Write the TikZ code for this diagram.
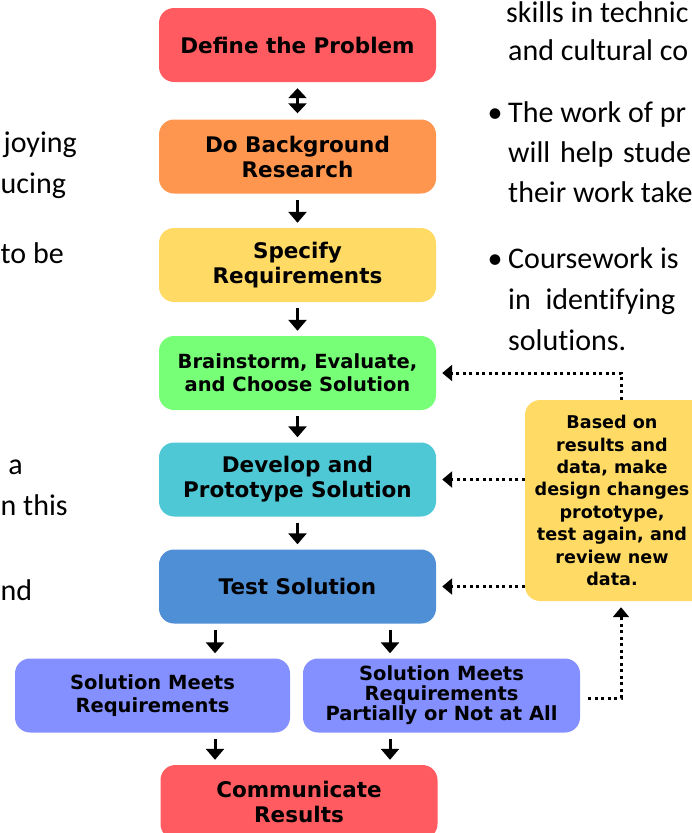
\documentclass[tikz,border=0pt]{standalone}
\usepackage{fontspec}
\setmainfont{Carlito}[Ligatures=NoCommon]
\newfontfamily\boxfont{DejaVu Sans}
\usetikzlibrary{arrows.meta}
\definecolor{cred}{HTML}{FF5B60}
\definecolor{corange}{HTML}{FF964F}
\definecolor{cyellow}{HTML}{FFDB66}
\definecolor{cgreen}{HTML}{77FF77}
\definecolor{ccyan}{HTML}{4FC8D6}
\definecolor{cblue}{HTML}{4F8FD6}
\definecolor{cviolet}{HTML}{8490FF}
\begin{document}
\begin{tikzpicture}[x=1pt,y=-1pt,
  box/.style={draw=none, rounded corners=15pt, minimum width=277pt, minimum height=74pt,
    inner sep=0pt, align=center, text=black,
    font=\boxfont\bfseries\fontsize{21.5pt}{25pt}\selectfont},
  smallbox/.style={box, font=\boxfont\bfseries\fontsize{19.5pt}{23pt}\selectfont},
  arr/.style={line width=3pt, -{Triangle[width=18pt,length=11pt]}, shorten <=6pt, shorten >=5pt},
  dblarr/.style={line width=3pt, {Triangle[width=18pt,length=10pt]}-{Triangle[width=18pt,length=10pt]}, shorten <=6pt, shorten >=6pt},
  dotarr/.style={line width=3pt, dash pattern=on 3pt off 3.5pt, -{Triangle[width=16pt,length=10pt]}},
  bt/.style={inner sep=0pt, font=\fontsize{30pt}{40pt}\selectfont, text=black}
]
\useasboundingbox (0,0) rectangle (692,833);

% background text, left
\node[bt, anchor=base east] (l1) at (77,152) {joying};
\node[bt, anchor=base west] (l2) at (0.5,193) {ucing};
\node[bt, anchor=base west] (l3) at (0.5,263) {to be};
\node[bt, anchor=base east] (l4) at (23,474) {a};
\node[bt, anchor=base west] (l5) at (0.5,515) {n this};
\node[bt, anchor=base west] (l6) at (0.5,600) {nd};

% background text, right
\node[bt, anchor=base west] (r1) at (506,22.5) {skills in technic};
\node[bt, anchor=base west] (r2) at (508,60) {and cultural co};
\node[bt, anchor=base] (bu1) at (495,122) {•};
\node[bt, anchor=base west] (r3) at (508,122) {The work of pr};
\node[bt, anchor=base west] (r4) at (508,162) {will\hspace{3pt} help\hspace{3pt} stude};
\node[bt, anchor=base west] (r5) at (508,202) {their work take};
\node[bt, anchor=base] (bu2) at (495,268) {•};
\node[bt, anchor=base west] (r6) at (508,268) {Coursework is};
\node[bt, anchor=base west] (r7) at (508,309) {in\hspace{8pt} identifying};
\node[bt, anchor=base west] (r8) at (508,350) {solutions.};

% flow boxes
\node[box, fill=cred] (define) at (297.5,45) {Define the Problem};
\node[box, fill=corange] (research) at (297.5,156.5) {Do Background\\Research};
\node[box, fill=cyellow] (specify) at (297.5,265) {Specify\\Requirements};
\node[smallbox, fill=cgreen] (brain) at (297.5,373) {Brainstorm, Evaluate,\\and Choose Solution};
\node[box, fill=ccyan] (develop) at (297.5,479.5) {Develop and\\Prototype Solution};
\node[box, fill=cblue] (test) at (297.5,586.5) {Test Solution};
\node[smallbox, fill=cviolet, minimum width=275pt] (sm1) at (152.5,695.5) {Solution Meets\\Requirements};
\node[smallbox, fill=cviolet, font=\boxfont\bfseries\fontsize{19.5pt}{20pt}\selectfont] (sm2) at (441.5,695.5) {Solution Meets\\Requirements\\Partially or Not at All};
\node[box, fill=cred] (comm) at (299,802) {Communicate\\Results};
\node[box, fill=cyellow, minimum width=184pt, minimum height=201pt] (side) at (617,500.5) {};
\node[inner sep=0pt, align=center, text=black,
  font=\boxfont\bfseries\fontsize{17.6pt}{22.4pt}\selectfont] (sidetext) at (612,500.5)
  {Based on\\results and\\data, make\\design changes\\prototype,\\test again, and\\review new\\data.};

\coordinate (ca) at (215,0);
\coordinate (cb) at (390,0);
\coordinate (fx) at (621,0);

% solid arrows
\draw[dblarr] (define) -- (research);
\draw[arr] (research) -- (specify);
\draw[arr] (specify) -- (brain);
\draw[arr] (brain) -- (develop);
\draw[arr] (develop) -- (test);
\draw[arr] (test.south -| ca) -- (sm1.north -| ca);
\draw[arr] (test.south -| cb) -- (sm2.north -| cb);
\draw[arr] (sm1.south -| ca) -- (comm.north -| ca);
\draw[arr] (sm2.south -| cb) -- (comm.north -| cb);

% dotted feedback arrows
\draw[dotarr] (side.north -| fx) |- ([xshift=6pt]brain.east);
\draw[dotarr] (side.west |- develop.east) -- ([xshift=6pt]develop.east);
\draw[dotarr] (side.west |- test.east) -- ([xshift=6pt]test.east);
\draw[dotarr] ([xshift=8pt,yshift=-2.5pt]sm2.east) -| ([yshift=-6pt]side.south -| fx);
\end{tikzpicture}
\end{document}
